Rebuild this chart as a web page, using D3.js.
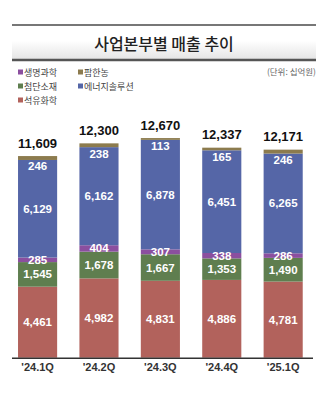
<!DOCTYPE html>
<html><head><meta charset="utf-8">
<script src="https://cdn.jsdelivr.net/npm/d3@7"></script>
<style>
html,body{margin:0;padding:0;background:#fff;}
svg{display:block;}
</style></head>
<body>
<svg id="c" width="331" height="400"></svg>
<script>
const quarters = ["'24.1Q", "'24.2Q", "'24.3Q", "'24.4Q", "'25.1Q"];
const totals = [11609, 12300, 12670, 12337, 12171];
const petro = [4461, 4982, 4831, 4886, 4781];     // 석유화학
const adv = [1545, 1678, 1667, 1353, 1490];       // 첨단소재
const life = [285, 404, 307, 338, 286];           // 생명과학
const energy = [6129, 6162, 6878, 6451, 6265];    // 에너지솔루션
const farm = [246, 238, 113, 165, 246];           // 팜한농
const seriesNames = ["석유화학", "첨단소재", "생명과학", "에너지솔루션", "팜한농"];
const seriesColors = ["#b2625c", "#5f7e4f", "#8b4f9f", "#5566a7", "#8c7b4e"];
const legendOrder = ["생명과학", "팜한농", "첨단소재", "에너지솔루션", "석유화학"];
const title = "사업본부별 매출 추이";
const unitText = "(단위: 십억원)";

const seriesVals = [petro, adv, life, energy, farm];
const rows = quarters.map((q, i) => {
  const r = {q};
  seriesNames.forEach((s, k) => r[s] = seriesVals[k][i]);
  return r;
});
const stack = d3.stack().keys(seriesNames)(rows);
const color = d3.scaleOrdinal().domain(seriesNames).range(seriesColors);

const svg = d3.select("#c");
const KR = "'Noto Sans CJK KR','Noto Sans',sans-serif";
const NUM = "'Liberation Sans Narrow','Arial Narrow','Liberation Sans',sans-serif";

// title band
const defs = svg.append("defs");
const g = defs.append("linearGradient").attr("id", "tg").attr("x1", 0).attr("y1", 0).attr("x2", 0).attr("y2", 1);
g.append("stop").attr("offset", "0%").attr("stop-color", "#ffffff");
g.append("stop").attr("offset", "45%").attr("stop-color", "#ffffff");
g.append("stop").attr("offset", "100%").attr("stop-color", "#e4e4e4");
svg.append("rect").attr("x", 12).attr("y", 25.5).attr("width", 304).attr("height", 34).attr("fill", "url(#tg)");
svg.append("line").attr("x1", 12).attr("x2", 316).attr("y1", 25).attr("y2", 25).attr("stroke", "#4a4a4a").attr("stroke-width", 1.5);
svg.append("line").attr("x1", 12).attr("x2", 316).attr("y1", 60).attr("y2", 60).attr("stroke", "#555").attr("stroke-width", 2.5);
svg.append("text").attr("x", 164).attr("y", 43).attr("text-anchor", "middle").attr("dominant-baseline", "central")
  .attr("font-family", KR).attr("font-size", 16).attr("font-weight", 500).attr("fill", "#222").text(title);

// legend
const legPos = [[20, 72], [80, 72], [20, 86], [80, 86], [20, 100]];
legendOrder.forEach((name, i) => {
  const [x, y] = legPos[i];
  svg.append("rect").attr("x", x - 2).attr("y", y - 2.5).attr("width", 5).attr("height", 5).attr("fill", color(name));
  svg.append("text").attr("x", x + 4).attr("y", y).attr("dominant-baseline", "central")
    .attr("font-family", KR).attr("font-size", 9).attr("fill", "#444").text(name);
});
svg.append("text").attr("x", 316).attr("y", 70.5).attr("text-anchor", "end").attr("dominant-baseline", "central")
  .attr("font-family", KR).attr("font-size", 8.5).attr("fill", "#666").text(unitText);

// scales
const x = d3.scaleBand().domain(quarters).range([5.75, 315]).paddingInner(0.363).paddingOuter(0.2);
const base = 357.7;
const y = d3.scaleLinear().domain([0, 14000]).range([base, base - 14000 * 0.01592]);

// bars
const layer = svg.append("g").selectAll("g").data(stack).join("g").attr("fill", d => color(d.key));
layer.selectAll("rect").data(d => d).join("rect")
  .attr("x", d => x(d.data.q)).attr("width", x.bandwidth())
  .attr("y", d => y(d[1])).attr("height", d => y(d[0]) - y(d[1]));

// segment labels
stack.forEach(s => {
  s.forEach(d => {
    const cx = x(d.data.q) + x.bandwidth() / 2;
    let cy = (y(d[0]) + y(d[1])) / 2;
    if (s.key === "팜한농") cy = y(d[0]) + 6.5;
    svg.append("text").attr("x", cx).attr("y", cy).attr("text-anchor", "middle").attr("dominant-baseline", "central")
      .attr("font-family", NUM).attr("font-weight", "bold").attr("font-size", 11.5).attr("fill", "#fff")
      .text(d3.format(",")(d[1] - d[0]));
  });
});

// totals
const tops = stack[stack.length - 1];
quarters.forEach((q, i) => {
  svg.append("text").attr("x", x(q) + x.bandwidth() / 2).attr("y", y(tops[i][1]) - 13).attr("text-anchor", "middle")
    .attr("dominant-baseline", "central").attr("font-family", NUM).attr("font-weight", "bold").attr("font-size", 13)
    .attr("fill", "#111").text(d3.format(",")(totals[i]));
});

// axis
const ax = svg.append("g").attr("transform", `translate(0,${base})`)
  .call(d3.axisBottom(x).tickSize(0).tickPadding(6));
ax.select(".domain").attr("d", "M12,0.5H313").attr("stroke", "#333").attr("stroke-width", 1.5);
ax.selectAll("text").attr("font-family", NUM).attr("font-weight", "bold").attr("font-size", 11).attr("fill", "#333");
</script>
</body></html>
